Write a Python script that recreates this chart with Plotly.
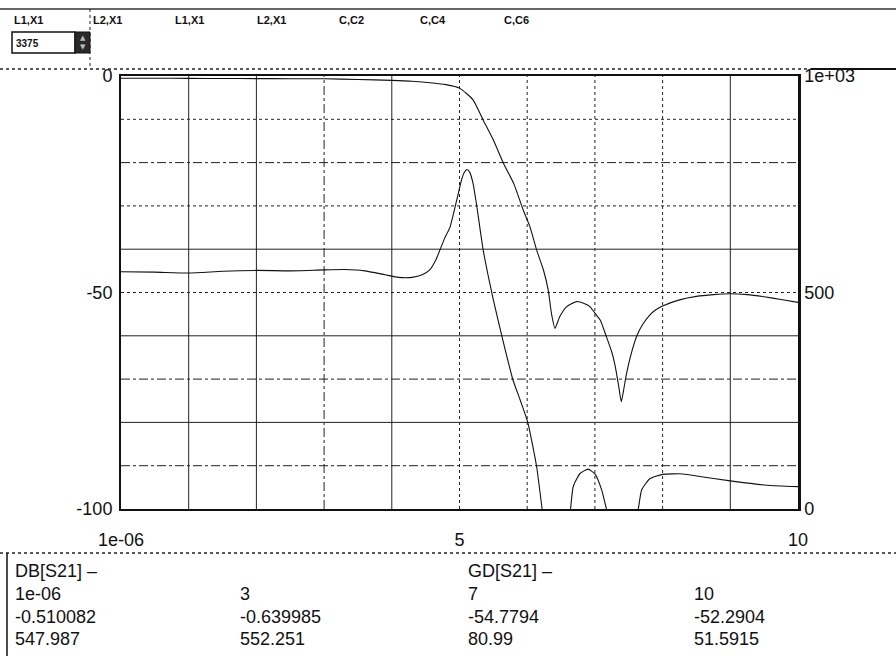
import plotly.graph_objects as go

# ---- sweep data: frequency (GHz) vs DB[S21] and GD[S21] ----
freq = [1e-06, 0.5, 1.0, 1.5, 2.0, 2.5, 3.0, 3.5, 4.0, 4.3, 4.6, 4.8, 5.0,
        5.2, 5.35, 5.5, 5.65, 5.8, 5.94, 6.04, 6.14, 6.24, 6.31, 6.36, 6.41,
        6.48, 6.58, 6.73, 6.85, 6.93, 7.0, 7.08, 7.17, 7.25, 7.3, 7.35, 7.39,
        7.43, 7.47, 7.53, 7.62, 7.7, 7.81, 7.9, 8.0, 8.25, 8.5, 8.75, 9.0,
        9.25, 9.5, 9.75, 10.0]
db_s21 = [-0.510082, -0.52, -0.55, -0.58, -0.6, -0.62, -0.639985, -0.8, -1.0,
          -1.2, -1.6, -2.0, -2.8, -5.5, -10.2, -14.8, -20.2, -24.8, -30.9,
          -34.8, -40.2, -44.8, -49.4, -55.0, -58.3, -55.6, -53.3, -52.1,
          -52.6, -53.3, -54.7794, -56.4, -60.2, -63.8, -67.0, -71.5, -75.2,
          -72.0, -68.5, -64.5, -60.0, -57.5, -55.2, -54.0, -53.1, -51.7,
          -50.9, -50.5, -50.3, -50.5, -51.0, -51.6, -52.2904]

gd_freq = [1e-06, 0.5, 1.0, 1.5, 2.0, 2.5, 3.0, 3.3, 3.6, 3.9, 4.1, 4.3,
           4.45, 4.56, 4.65, 4.71, 4.78, 4.86, 4.96, 5.03, 5.07, 5.11, 5.15,
           5.2, 5.25, 5.35, 5.5, 5.64, 5.79, 5.9, 6.01, 6.14, 6.22, 6.3, 6.45,
           6.56, 6.64, 6.68, 6.78, 6.9, 7.0, 7.1, 7.17, 7.3, 7.5, 7.64, 7.69,
           7.81, 8.0, 8.3, 8.55, 9.0, 9.54, 10.0]
gd_s21 = [547.987, 547, 545, 549, 551, 550, 552.251, 553, 550, 541, 535, 535,
          541, 552, 575, 598, 625, 651, 714, 760, 777, 784, 778, 752, 705, 598,
          483, 390, 298, 250, 199, 97, 0, -100, -150, -100, 0, 52, 82, 92,
          80.99, 44, 0, -80, -80, 0, 44, 70, 80, 81, 75, 65, 55, 51.5915]

# ---- marker readout table ----
marker_freq = ["1e-06", "3", "7", "10"]
marker_db = ["-0.510082", "-0.639985", "-54.7794", "-52.2904"]
marker_gd = ["547.987", "552.251", "80.99", "51.5915"]

# ---- tuning bar labels ----
tune_labels = ["L1,X1", "L2,X1", "L1,X1", "L2,X1", "C,C2", "C,C4", "C,C6"]
tune_value = "3375"

# ---- axis ticks ----
x_tickvals = [1e-06, 5, 10]
x_ticktext = ["1e-06", "5", "10"]
y_tickvals = [-100, -50, 0]
y_ticktext = ["-100", "-50", "0"]
y2_tickvals = [0, 500, 1000]
y2_ticktext = ["0", "500", "1e+03"]

# grid line values and their drawing styles
x_grid = [1, 2, 3, 4, 5, 6, 7, 8, 9]
x_grid_dash = ["solid", "solid", "dashdot", "solid", "dot", "dot", "dot", "dot", "solid"]
y_grid = [-10, -20, -30, -40, -50, -60, -70, -80, -90]
y_grid_dash = ["dot", "dashdot", "dot", "solid", "dot", "solid", "dashdot", "solid", "dashdot"]

W, H = 896, 656
L, R, T, B = 121, 798, 76, 509
FONT = "Liberation Sans, Arial, sans-serif"


def fx(px):
    return (px - L) / (R - L)


def fy(py):
    return (B - py) / (B - T)


fig = go.Figure()
fig.add_trace(go.Scatter(x=freq, y=db_s21, mode="lines", name="DB[S21]",
                         line=dict(color="#111111", width=1.1, shape="spline", smoothing=0.5)))
fig.add_trace(go.Scatter(x=gd_freq, y=gd_s21, mode="lines", name="GD[S21]",
                         yaxis="y2",
                         line=dict(color="#111111", width=1.1, shape="spline", smoothing=0.5)))

shapes = []
for v, d in zip(x_grid, x_grid_dash):
    shapes.append(dict(type="line", xref="x", yref="paper", x0=v, x1=v, y0=0, y1=1,
                       line=dict(color="#222222", width=1, dash=d), layer="below"))
for v, d in zip(y_grid, y_grid_dash):
    shapes.append(dict(type="line", xref="paper", yref="y", x0=0, x1=1, y0=v, y1=v,
                       line=dict(color="#222222", width=1, dash=d), layer="below"))

# header frame, value box and separators
shapes += [
    dict(type="line", xref="paper", yref="paper", x0=fx(0), x1=fx(W), y0=fy(9), y1=fy(9),
         line=dict(color="#333333", width=1.5)),
    dict(type="line", xref="paper", yref="paper", x0=fx(0), x1=fx(W), y0=fy(69), y1=fy(69),
         line=dict(color="#222222", width=1.5, dash="dot")),
    dict(type="line", xref="paper", yref="paper", x0=fx(811), x1=fx(W), y0=fy(69), y1=fy(69),
         line=dict(color="#111111", width=2)),
    dict(type="line", xref="paper", yref="paper", x0=fx(90), x1=fx(90), y0=fy(9), y1=fy(69),
         line=dict(color="#222222", width=1, dash="dot")),
    dict(type="rect", xref="paper", yref="paper", x0=fx(12), x1=fx(75), y0=fy(32), y1=fy(53),
         line=dict(color="#111111", width=1.5), fillcolor="white"),
    dict(type="rect", xref="paper", yref="paper", x0=fx(75), x1=fx(90), y0=fy(32), y1=fy(53),
         line=dict(color="#111111", width=1), fillcolor="#2a2a2a"),
    dict(type="line", xref="paper", yref="paper", x0=fx(0), x1=fx(W), y0=fy(553), y1=fy(553),
         line=dict(color="#222222", width=1.5, dash="dot")),
    dict(type="line", xref="paper", yref="paper", x0=fx(7), x1=fx(7), y0=fy(553), y1=fy(H),
         line=dict(color="#111111", width=1.5)),
]

annotations = []
label_x = [12, 91, 173, 255, 337, 418, 502]
for lx, txt in zip(label_x, tune_labels):
    annotations.append(dict(text=txt, xref="paper", yref="paper", x=fx(lx), y=fy(20),
                            xanchor="left", yanchor="middle", showarrow=False,
                            font=dict(family=FONT, size=11, color="#111111", weight="bold")))
annotations.append(dict(text=tune_value, xref="paper", yref="paper", x=fx(14), y=fy(43),
                        xanchor="left", yanchor="middle", showarrow=False,
                        font=dict(family=FONT, size=10, color="#111111", weight="bold")))
for sy, ch in ((38, "▲"), (47, "▼")):
    annotations.append(dict(text=ch, xref="paper", yref="paper", x=fx(82.5), y=fy(sy),
                            xanchor="center", yanchor="middle", showarrow=False,
                            font=dict(family="DejaVu Sans", size=7, color="#bbbbbb")))

# marker readout below the chart
col_x = [13, 238, 466, 692]
row_y = [571, 594, 617, 639]
tfont = dict(family=FONT, size=18, color="#111111")
annotations.append(dict(text="DB[S21] –", xref="paper", yref="paper", x=fx(col_x[0]),
                        y=fy(row_y[0]), xanchor="left", yanchor="middle", showarrow=False,
                        font=tfont))
annotations.append(dict(text="GD[S21] –", xref="paper", yref="paper", x=fx(col_x[2]),
                        y=fy(row_y[0]), xanchor="left", yanchor="middle", showarrow=False,
                        font=tfont))
for i in range(len(marker_freq)):
    for r, vals in enumerate((marker_freq, marker_db, marker_gd), start=1):
        annotations.append(dict(text=vals[i], xref="paper", yref="paper", x=fx(col_x[i]),
                                y=fy(row_y[r]), xanchor="left", yanchor="middle",
                                showarrow=False, font=tfont))

fig.update_layout(
    width=W, height=H,
    margin=dict(l=L, r=W - R, t=T, b=H - B, pad=0),
    paper_bgcolor="white", plot_bgcolor="white",
    showlegend=False,
    font=dict(family=FONT, size=18, color="#111111"),
    xaxis=dict(range=[0, 10], tickmode="array", tickvals=x_tickvals, ticktext=x_ticktext,
               showgrid=False, zeroline=False, ticks="", ticklabelstandoff=13,
               showline=True, linecolor="#111111", linewidth=2, mirror=True),
    yaxis=dict(range=[-100, 0], tickmode="array", tickvals=y_tickvals, ticktext=y_ticktext,
               showgrid=False, zeroline=False, ticks="", ticklabelstandoff=3,
               showline=True, linecolor="#111111", linewidth=2),
    yaxis2=dict(range=[0, 1000], tickmode="array", tickvals=y2_tickvals,
                ticktext=y2_ticktext, overlaying="y", side="right",
                showgrid=False, zeroline=False, ticks="", ticklabelstandoff=0,
                showline=True, linecolor="#111111", linewidth=2.5),
    shapes=shapes,
    annotations=annotations,
)

fig.write_html("out.html")
